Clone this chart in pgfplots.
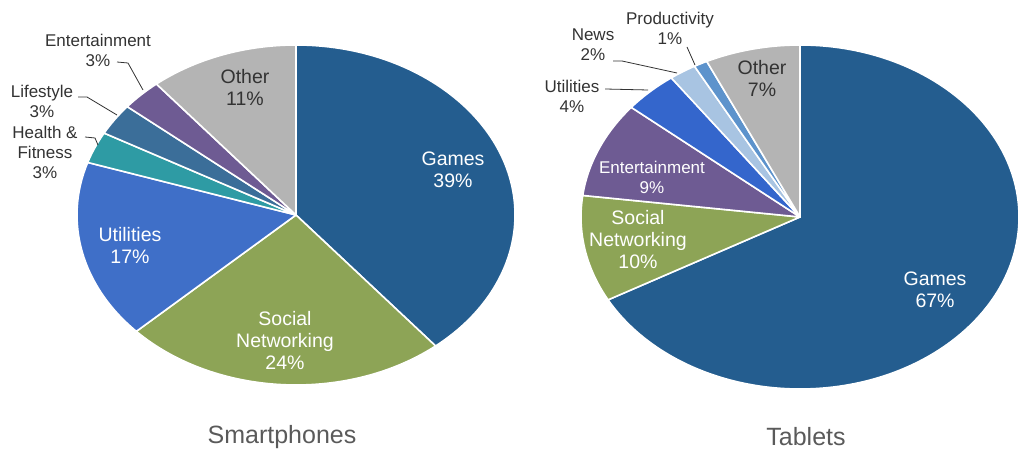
\documentclass[border=0pt]{standalone}
\usepackage{pgfplots}
\pgfplotsset{compat=1.18}
\usepackage{fontspec}
\setmainfont{Liberation Sans}

\definecolor{cgames}{RGB}{36,93,143}
\definecolor{csocial}{RGB}{141,164,86}
\definecolor{cutil}{RGB}{63,111,200}
\definecolor{cutilt}{RGB}{52,102,204}
\definecolor{chealth}{RGB}{46,155,164}
\definecolor{clife}{RGB}{59,110,153}
\definecolor{cent}{RGB}{110,91,147}
\definecolor{cother}{RGB}{180,180,180}
\definecolor{cnews}{RGB}{168,196,226}
\definecolor{cprod}{RGB}{93,147,204}
\definecolor{ctext}{RGB}{51,51,51}
\definecolor{ctitle}{RGB}{90,90,90}

% slice from cumulative percentage #1 to #2, clockwise from 12 o'clock
\newcommand{\slice}[3]{%
  \fill[#3, draw=white, line width=1.6pt, line join=round]
    (axis cs:0,0) -- (axis cs:{cos(90-3.6*#1)},{sin(90-3.6*#1)})
    arc[start angle={90-3.6*#1}, end angle={90-3.6*#2}, x radius=1, y radius=1] -- cycle;}

\newcommand{\inlab}{\fontsize{19.5}{22}\selectfont}
\newcommand{\smlab}{\fontsize{17}{20}\selectfont}

\begin{document}
\begin{tikzpicture}[x=1pt,y=1pt]
\useasboundingbox (0,0) rectangle (1019,460);

% Smartphones: Games 39, Social Networking 24, Utilities 17, Health & Fitness 3,
% Lifestyle 3, Entertainment 3, Other 11
\begin{axis}[hide axis, scale only axis, clip=false,
  width=438pt, height=340pt, at={(296pt,245pt)}, anchor=center,
  xmin=-1, xmax=1, ymin=-1, ymax=1]
  \slice{0}{39}{cgames}
  \slice{39}{63}{csocial}
  \slice{63}{80}{cutil}
  \slice{80}{83}{chealth}
  \slice{83}{86}{clife}
  \slice{86}{89}{cent}
  \slice{89}{100}{cother}
\end{axis}

% Tablets: Games 67, Social Networking 10, Entertainment 9, Utilities 4,
% News 2, Productivity 1, Other 7
\begin{axis}[hide axis, scale only axis, clip=false,
  width=438pt, height=344pt, at={(800pt,243pt)}, anchor=center,
  xmin=-1, xmax=1, ymin=-1, ymax=1]
  \slice{0}{67}{cgames}
  \slice{67}{77}{csocial}
  \slice{77}{86}{cent}
  \slice{86}{90}{cutilt}
  \slice{90}{92}{cnews}
  \slice{92}{93}{cprod}
  \slice{93}{100}{cother}
\end{axis}

% Smartphone labels
\node[white, align=center, font=\inlab] at (453,290) {Games\\39\%};
\node[white, align=center, font=\inlab] at (285,120) {Social\\Networking\\24\%};
\node[white, align=center, font=\inlab] at (130,215) {Utilities\\17\%};
\node[ctext, align=center, font=\inlab] at (245,373) {Other\\11\%};
\node[ctext, align=center, font=\smlab] at (98,410) {Entertainment\\3\%};
\node[ctext, align=center, font=\smlab] at (42,359) {Lifestyle\\3\%};
\node[ctext, align=center, font=\smlab] at (45,308) {Health \&\\Fitness\\3\%};
\draw[ctext, line width=0.8pt] (117,398) -- (128,397) -- (143,370);
\draw[ctext, line width=0.8pt] (78,363) -- (87,363) -- (117,345);
\draw[ctext, line width=0.8pt] (85,323) -- (95,322) -- (98,315);

% Tablet labels
\node[white, align=center, font=\inlab] at (935,170) {Games\\67\%};
\node[white, align=center, font=\inlab] at (638,220) {Social\\Networking\\10\%};
\node[white, align=center, font=\smlab] at (652,283) {Entertainment\\9\%};
\node[ctext, align=center, font=\inlab] at (762,382) {Other\\7\%};
\node[ctext, align=center, font=\smlab] at (572,364) {Utilities\\4\%};
\node[ctext, align=center, font=\smlab] at (593,415) {News\\2\%};
\node[ctext, align=center, font=\smlab] at (670,432) {Productivity\\1\%};
\draw[ctext, line width=0.8pt] (605,371) -- (648,370);
\draw[ctext, line width=0.8pt] (613,399) -- (622,399) -- (677,387);
\draw[ctext, line width=0.8pt] (687,413) -- (695,395);

% Titles
\node[ctitle, font=\fontsize{25}{28}\selectfont] at (282,23) {Smartphones};
\node[ctitle, font=\fontsize{25}{28}\selectfont] at (806,23) {Tablets};
\end{tikzpicture}
\end{document}
